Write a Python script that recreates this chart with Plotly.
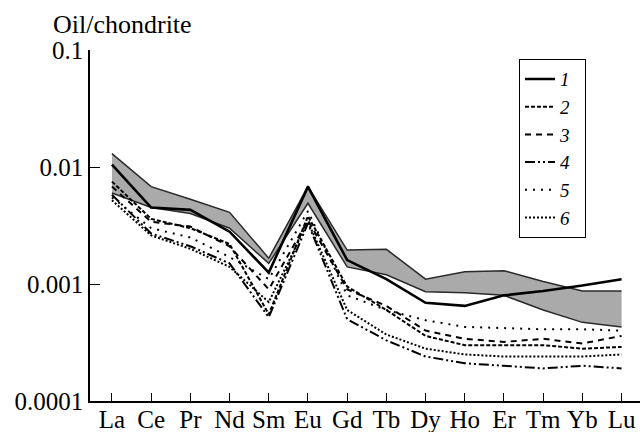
import plotly.graph_objects as go

elements = ["La", "Ce", "Pr", "Nd", "Sm", "Eu", "Gd", "Tb", "Dy", "Ho", "Er", "Tm", "Yb", "Lu"]

band_top = [0.013, 0.0068, 0.0053, 0.0041, 0.00166, 0.0068, 0.00195, 0.00198, 0.0011, 0.00127, 0.0013, 0.00105, 0.00087, 0.00087]
band_bottom = [0.006, 0.0045, 0.004, 0.003, 0.0015, 0.0049, 0.0014, 0.0012, 0.00086, 0.00084, 0.0008, 0.0006, 0.00047, 0.00043]

s1 = [0.0105, 0.0045, 0.0043, 0.0028, 0.00125, 0.0068, 0.0016, 0.0011, 0.00069, 0.00065, 0.0008, 0.00087, 0.00097, 0.0011]
s2 = [0.0075, 0.0036, 0.003, 0.0022, 0.00055, 0.0038, 0.00095, 0.0006, 0.00036, 0.0003, 0.0003, 0.0003, 0.00028, 0.00029]
s3 = [0.0068, 0.0034, 0.0031, 0.0021, 0.0009, 0.0035, 0.0009, 0.00065, 0.0004, 0.00034, 0.00032, 0.00034, 0.00031, 0.00036]
s4 = [0.0058, 0.0027, 0.0021, 0.0015, 0.00052, 0.0033, 0.0005, 0.00033, 0.00024, 0.00021, 0.0002, 0.00019, 0.0002, 0.00019]
s5 = [0.0055, 0.003, 0.0025, 0.0017, 0.0011, 0.0042, 0.0008, 0.0006, 0.00049, 0.00043, 0.00042, 0.00041, 0.00041, 0.0004]
s6 = [0.0052, 0.0026, 0.002, 0.0014, 0.0007, 0.0034, 0.0006, 0.00037, 0.00028, 0.00025, 0.00024, 0.00024, 0.00024, 0.00025]

series_names = ["1", "2", "3", "4", "5", "6"]
y_tick_vals = [0.1, 0.01, 0.001, 0.0001]
y_tick_text = ["0.1", "0.01", "0.001", "0.0001"]

x = list(range(len(elements)))
FONT = "Liberation Serif, Times New Roman, serif"

fig = go.Figure()

# gray band
fig.add_trace(go.Scatter(x=x, y=band_bottom, mode="lines", line=dict(color="#2a2a2a", width=1.5),
                         showlegend=False, hoverinfo="skip"))
fig.add_trace(go.Scatter(x=x, y=band_top, mode="lines", line=dict(color="#2a2a2a", width=1.5),
                         fill="tonexty", fillcolor="#aaaaaa", showlegend=False, hoverinfo="skip"))

styles = [
    dict(width=2.6, dash="solid"),
    dict(width=2.0, dash="4px,2px"),
    dict(width=2.0, dash="6px,5px"),
    dict(width=2.0, dash="10px,3px,2px,3px,2px,3px"),
    dict(width=2.0, dash="2px,6px"),
    dict(width=2.0, dash="2px,2px"),
]
for name, ys, st in zip(series_names, [s1, s2, s3, s4, s5, s6], styles):
    fig.add_trace(go.Scatter(x=x, y=ys, mode="lines", name=f"<i>{name}</i>&#160;&#160;", legendgroup=name,
                             line=dict(color="black", width=st["width"], dash=st["dash"])))

fig.update_layout(
    width=640, height=432,
    margin=dict(l=90, r=0, t=50, b=31),
    paper_bgcolor="white", plot_bgcolor="white",
    font=dict(family=FONT, size=25, color="black"),
    legend=dict(x=0.78, y=0.974, xanchor="left", yanchor="top",
                bordercolor="black", borderwidth=1, bgcolor="white",
                font=dict(family=FONT, size=19), itemwidth=30,
                traceorder="normal", tracegroupgap=4),
    annotations=[dict(text="Oil/chondrite", xref="paper", yref="paper",
                      x=-0.071, y=1.072, xanchor="left", yanchor="middle",
                      showarrow=False, font=dict(family=FONT, size=26))],
)
fig.update_xaxes(range=[-0.56, 13.47], tickvals=x, ticktext=elements,
                 showgrid=False, zeroline=False, showline=True, linecolor="black", linewidth=1.5,
                 ticks="inside", ticklen=8, tickcolor="black", tickwidth=1,
                 ticklabelstandoff=-5,
                 tickfont=dict(family=FONT, size=25))
fig.update_yaxes(type="log", range=[-4, -1], tickvals=y_tick_vals, ticktext=y_tick_text,
                 showgrid=False, zeroline=False, showline=True, linecolor="black", linewidth=1.5,
                 ticks="inside", ticklen=10, tickcolor="black", tickwidth=1,
                 tickfont=dict(family=FONT, size=25))

fig.write_html("out.html", config={"displayModeBar": False},
               post_script="document.body.style.margin='0';document.body.style.overflow='hidden';")
